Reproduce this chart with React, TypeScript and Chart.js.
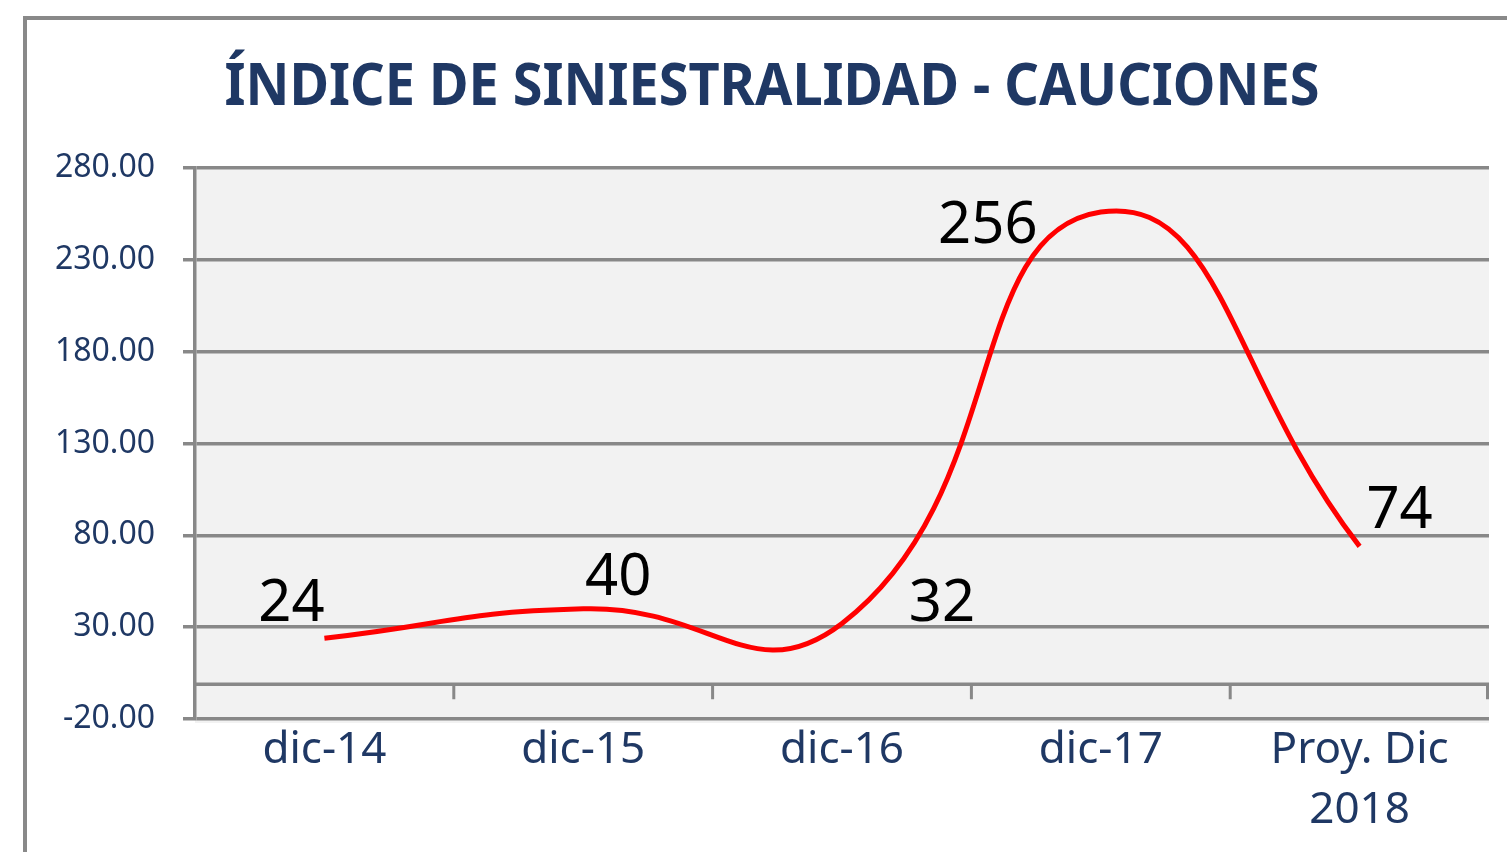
import React, { useEffect, useRef } from 'react';
import { Chart, registerables } from 'chart.js';

Chart.register(...registerables);

const titleText = 'ÍNDICE DE SINIESTRALIDAD - CAUCIONES';
const categories: (string | string[])[] = ['dic-14', 'dic-15', 'dic-16', 'dic-17', ['Proy. Dic', '2018']];
const values = [24, 40, 32, 256, 74];
const yMin = -20;
const yMax = 280;
const yStep = 50;
// label placement relative to each point (dx, dy of text baseline centre)
const labelOffsets: [number, number][] = [[-33, -17], [35, -14], [100, -2], [-113, 31], [40, -18]];

const NAVY = '#1F3864';
const GRID = '#888888';

const decorPlugin = {
  id: 'decor',
  beforeDraw(chart: any) {
    const { ctx, chartArea } = chart;
    ctx.save();
    ctx.fillStyle = '#ffffff';
    ctx.fillRect(0, 0, chart.width, chart.height);
    ctx.fillStyle = '#F2F2F2';
    ctx.fillRect(chartArea.left, chartArea.top, chartArea.right - chartArea.left, chartArea.bottom - chartArea.top + 4);
    // outer frame
    ctx.strokeStyle = '#898989';
    ctx.lineWidth = 4;
    ctx.beginPath();
    ctx.moveTo(25, chart.height + 5);
    ctx.lineTo(25, 18);
    ctx.lineTo(chart.width + 5, 18);
    ctx.stroke();
    ctx.restore();
  },
  beforeDatasetsDraw(chart: any) {
    const { ctx, chartArea, scales } = chart;
    const y0 = scales.y.getPixelForValue(0) + 2;
    const xs = scales.x;
    ctx.save();
    ctx.strokeStyle = GRID;
    ctx.lineWidth = 3.5;
    ctx.beginPath();
    ctx.moveTo(chartArea.left, y0);
    ctx.lineTo(chartArea.right, y0);
    ctx.stroke();
    const n = categories.length;
    const w = (chartArea.right - chartArea.left) / n;
    ctx.lineWidth = 3;
    ctx.beginPath();
    for (let i = 1; i <= n; i++) {
      const x = xs.left + w * i - (i === n ? 1.5 : 0);
      ctx.moveTo(x, y0);
      ctx.lineTo(x, y0 + 15);
    }
    ctx.stroke();
    ctx.restore();
  },
  afterDraw(chart: any) {
    const { ctx } = chart;
    ctx.save();
    ctx.fillStyle = NAVY;
    ctx.font = 'bold 60px "Noto Sans"';
    ctx.textAlign = 'center';
    ctx.textBaseline = 'alphabetic';
    ctx.fillText(titleText, 772, 105, 1095);
    const meta = chart.getDatasetMeta(0);
    ctx.fillStyle = '#000000';
    ctx.font = '58px "Noto Sans"';
    meta.data.forEach((pt: any, i: number) => {
      const [dx, dy] = labelOffsets[i];
      ctx.fillText(String(values[i]), pt.x + dx, pt.y + dy);
    });
    ctx.restore();
  },
};

export default function App() {
  const ref = useRef<HTMLCanvasElement | null>(null);
  useEffect(() => {
    if (!ref.current) return;
    const chart = new Chart(ref.current, {
      type: 'line',
      data: {
        labels: categories as any,
        datasets: [
          {
            data: values,
            borderColor: '#FF0000',
            borderWidth: 5,
            pointRadius: 0,
            tension: 0.5,
            fill: false,
          },
        ],
      },
      options: {
        animation: false,
        responsive: true,
        maintainAspectRatio: false,
        layout: { padding: { top: 168, right: 18, bottom: 0, left: 0 } },
        plugins: { legend: { display: false }, tooltip: { enabled: false }, title: { display: false } },
        scales: {
          x: {
            offset: true,
            grid: { display: false, drawTicks: false, offset: true },
            border: { display: false },
            ticks: {
              color: NAVY,
              font: { family: 'Noto Sans', size: 44, lineHeight: 1.36 },
              padding: 2,
              maxRotation: 0,
              autoSkip: false,
            },
            afterFit: (s: any) => {
              s.height = 852 - 719;
            },
          },
          y: {
            min: yMin,
            max: yMax,
            ticks: {
              stepSize: yStep,
              color: NAVY,
              font: { family: 'Noto Sans', size: 32 },
              padding: 28,
              callback: (v: any) => Number(v).toFixed(2),
            },
            grid: { color: GRID, lineWidth: 3.5, tickLength: 12, drawTicks: true },
            border: { display: true, color: GRID, width: 3.5 },
            afterFit: (s: any) => {
              s.width = 195;
            },
          },
        },
      },
      plugins: [decorPlugin],
    });
    return () => chart.destroy();
  }, []);
  return (
    <div style={{ position: 'absolute', left: 0, top: 0, width: 1507, height: 852 }}>
      <canvas ref={ref} />
    </div>
  );
}
